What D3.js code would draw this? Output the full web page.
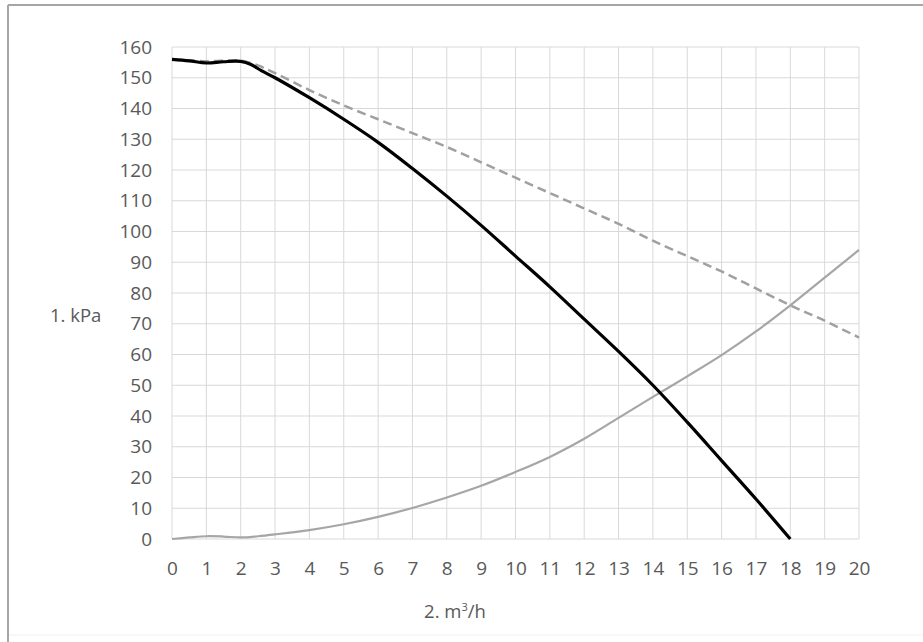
<!DOCTYPE html>
<html>
<head>
  <meta charset="utf-8">
  <title>Pump curve</title>
  <script src="https://d3js.org/d3.v7.min.js"></script>
  <style>
    body {
      margin: 0;
      background: #fff;
      font-family: "Open Sans", sans-serif;
    }
    .tick text {
      fill: #595959;
      font-size: 19px;
    }
    .axis-label {
      fill: #595959;
      font-size: 18.5px;
    }
  </style>
</head>
<body>
  <div id="chart"></div>
  <script>
    // flow (m3/h) and pressure (kPa)
    const pumpFlow = [0, 0.5, 1, 1.5, 2, 2.3, 2.6, 3, 4, 5, 6, 7, 8, 9, 10, 11, 12, 13, 14, 15, 16, 17, 18];
    const pumpHead = [156, 155.5, 154.8, 155.2, 155.3, 154.3, 152.3, 150, 143.5, 136.5, 129, 120.5, 111.5, 102, 92, 82, 71.5, 61, 50, 38, 25.5, 13, 0];

    const maxFlow = [0, 1, 2, 2.5, 3, 4, 5, 6, 7, 8, 9, 10, 11, 12, 13, 14, 15, 16, 17, 18, 19, 20];
    const maxHead = [156, 155.4, 155.6, 154, 151.5, 146, 141, 136.5, 132, 127.5, 122.5, 117.5, 112.5, 107.5, 102.5, 97, 92, 87, 81.5, 76, 71, 65.5];

    const sysFlow = [0, 0.5, 1, 1.5, 2, 2.5, 3, 4, 5, 6, 7, 8, 9, 10, 11, 12, 13, 14, 15, 16, 17, 18, 19, 20];
    const sysHead = [0, 0.5, 0.9, 0.8, 0.5, 0.9, 1.5, 2.9, 4.8, 7.2, 10.1, 13.5, 17.3, 21.8, 26.7, 32.6, 39.4, 46.2, 52.9, 59.8, 67.5, 76, 85, 94];

    const xTicks = d3.range(0, 21, 1);
    const yTicks = d3.range(0, 161, 10);

    const width = 923;
    const height = 642;
    const margin = { top: 47, right: 64, bottom: 103, left: 172 };

    const svg = d3.select("#chart")
      .append("svg")
      .attr("width", width)
      .attr("height", height);

    // frame round the picture
    svg.append("line").attr("x1", 8).attr("x2", width).attr("y1", 5).attr("y2", 5)
      .attr("stroke", "#a6a6a6").attr("stroke-width", 2);
    svg.append("line").attr("x1", 8).attr("x2", 8).attr("y1", 5).attr("y2", height)
      .attr("stroke", "#a6a6a6").attr("stroke-width", 2);
    svg.append("line").attr("x1", 9).attr("x2", width).attr("y1", 635).attr("y2", 635)
      .attr("stroke", "#f0f0f0").attr("stroke-width", 1);

    const x = d3.scaleLinear()
      .domain([0, 20])
      .range([margin.left, width - margin.right]);

    const y = d3.scaleLinear()
      .domain([0, 160])
      .range([height - margin.bottom, margin.top]);

    // grid
    svg.append("g")
      .selectAll("line")
      .data(xTicks)
      .join("line")
      .attr("x1", d => x(d)).attr("x2", d => x(d))
      .attr("y1", y(0)).attr("y2", y(160))
      .attr("stroke", "#d9d9d9").attr("stroke-width", 1);

    svg.append("g")
      .selectAll("line")
      .data(yTicks)
      .join("line")
      .attr("x1", x(0)).attr("x2", x(20))
      .attr("y1", d => y(d)).attr("y2", d => y(d))
      .attr("stroke", "#d9d9d9").attr("stroke-width", 1);

    // axes (labels only)
    const xAxis = svg.append("g")
      .attr("transform", `translate(0,${y(0)})`)
      .call(d3.axisBottom(x).tickValues(xTicks).tickSize(0).tickPadding(23).tickFormat(d3.format("d")));
    xAxis.select(".domain").remove();

    const yAxis = svg.append("g")
      .attr("transform", `translate(${x(0)},0)`)
      .call(d3.axisLeft(y).tickValues(yTicks).tickSize(0).tickPadding(20).tickFormat(d3.format("d")));
    yAxis.select(".domain").remove();
    svg.selectAll(".tick text").style("font-family", "'Open Sans', sans-serif");

    svg.append("text")
      .attr("class", "axis-label")
      .attr("x", 50)
      .attr("y", 322)
      .text("1. kPa");

    const xl = svg.append("text")
      .attr("class", "axis-label")
      .attr("x", 455)
      .attr("y", 618)
      .attr("text-anchor", "middle");
    xl.append("tspan").text("2. m");
    xl.append("tspan").attr("dy", -7).style("font-size", "11px").text("3");
    xl.append("tspan").attr("dy", 7).text("/h");

    // curves
    const line = d3.line()
      .x(d => x(d[0]))
      .y(d => y(d[1]))
      .curve(d3.curveCatmullRom.alpha(0.5));

    svg.append("path")
      .datum(d3.zip(sysFlow, sysHead))
      .attr("fill", "none")
      .attr("stroke", "#a6a6a6")
      .attr("stroke-width", 2.2)
      .attr("d", line);

    svg.append("path")
      .datum(d3.zip(maxFlow, maxHead))
      .attr("fill", "none")
      .attr("stroke", "#a0a0a0")
      .attr("stroke-width", 2.5)
      .attr("stroke-dasharray", "9,5")
      .attr("d", line);

    svg.append("path")
      .datum(d3.zip(pumpFlow, pumpHead))
      .attr("fill", "none")
      .attr("stroke", "#000")
      .attr("stroke-width", 3.2)
      .attr("d", line);
  </script>
</body>
</html>
